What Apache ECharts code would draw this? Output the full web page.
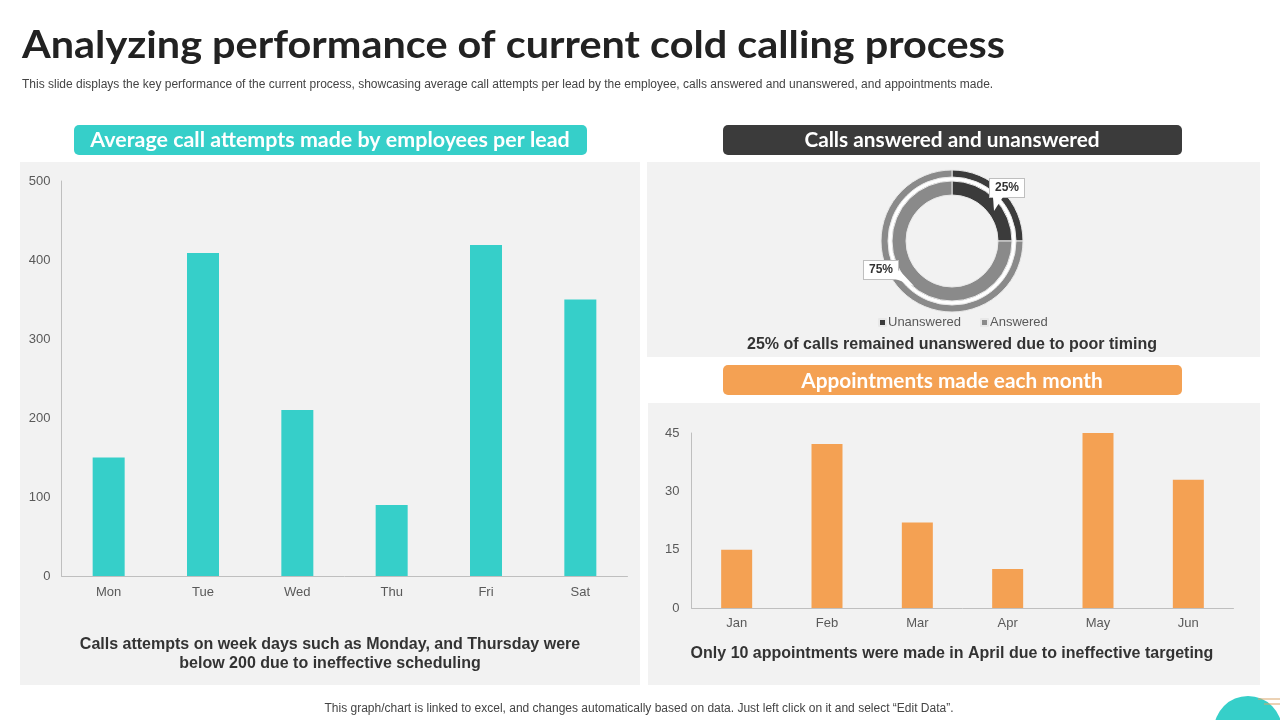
<!DOCTYPE html>
<html><head><meta charset="utf-8">
<style>html,body{margin:0;padding:0;background:#fff}#c{width:1280px;height:720px}</style>
<script src="https://cdn.jsdelivr.net/npm/echarts@6/dist/echarts.min.js"></script>
</head><body><div id="c"></div>
<script>
const dayLabels = ['Mon','Tue','Wed','Thu','Fri','Sat'];
const callAttempts = [150,409,210,90,419,350];
const monthLabels = ['Jan','Feb','Mar','Apr','May','Jun'];
const appointments = [15,42.2,22,10,45,33];
const callNames = ['Unanswered','Answered'];
const callShares = [25,75];
const TEAL='#36cfc9', ORANGE='#f4a153', DARK='#3b3b3b', GRAY='#8a8a8a', PANEL='#f2f2f2';
const AR='"Liberation Sans",Arial,sans-serif', HD='Lato,sans-serif';
const chart = echarts.init(document.getElementById('c'),null,{renderer:'canvas'});
function rect(x,y,w,h,fill,r){return {type:'rect',z:-10,shape:{x,y,width:w,height:h,r:r||0},style:{fill}};}
function txt(s,x,y,size,color,weight,align,font,sx){return {type:'text',z:20,x,y,scaleX:sx||1,style:{text:s,fontSize:size,fill:color,fontWeight:weight||'normal',fontFamily:font||AR,align:align||'left',verticalAlign:'middle'}};}
function axisBase(margin){return {axisTick:{show:false},axisLine:{show:true,lineStyle:{color:'#bfbfbf',width:1}},splitLine:{show:false},axisLabel:{color:'#595959',fontSize:13,fontFamily:AR,margin:margin}};}
function pieRing(inner,outer,withLabel){return {type:'pie',center:[952,241],radius:[inner,outer],startAngle:90,clockwise:true,silent:true,
  data:callNames.map((n,i)=>({name:n,value:callShares[i],itemStyle:{color:i?GRAY:DARK}})),
  itemStyle:{borderColor:'#e8e8e8',borderWidth:1},
  label:withLabel?{show:true,position:'outside',formatter:'{d}%',color:'#333',fontSize:12,fontWeight:'bold',fontFamily:AR,backgroundColor:'#fff',borderColor:'#bfbfbf',borderWidth:1,padding:[3,5]}:{show:false},
  labelLine:{show:false},
  labelLayout:withLabel?function(p){return p.dataIndex===0?{x:1007,y:188,align:'center',verticalAlign:'middle'}:{x:881,y:270,align:'center',verticalAlign:'middle'};}:undefined,
  emphasis:{disabled:true}};}
chart.setOption({
  animation:false,backgroundColor:'#fff',
  legend:{data:callNames,left:873,top:311,itemWidth:7,itemHeight:7,itemGap:19,icon:'rect',textStyle:{color:'#595959',fontSize:13,fontFamily:AR,padding:[0,0,0,-3]}},
  grid:[{left:61.5,top:181,width:566,height:395},{left:691.5,top:433,width:542,height:175}],
  xAxis:[
    Object.assign(axisBase(10),{type:'category',gridIndex:0,data:dayLabels}),
    Object.assign(axisBase(9),{type:'category',gridIndex:1,data:monthLabels})
  ],
  yAxis:[
    Object.assign(axisBase(11),{type:'value',gridIndex:0,min:0,max:500,interval:100}),
    Object.assign(axisBase(12),{type:'value',gridIndex:1,min:0,max:45,interval:15})
  ],
  series:[
    {type:'bar',xAxisIndex:0,yAxisIndex:0,data:callAttempts,barWidth:32,itemStyle:{color:TEAL},silent:true},
    {type:'bar',xAxisIndex:1,yAxisIndex:1,data:appointments,barWidth:31,itemStyle:{color:ORANGE},silent:true},
    pieRing(64,71,false),
    pieRing(46,60,true)
  ],
  graphic:[
    rect(20,162,620,523,PANEL),rect(647,162,613,195,PANEL),rect(648,403,612,282,PANEL),
    rect(74,125,513,30,TEAL,5),rect(723,125,459,30,DARK,5),rect(723,365,459,30,ORANGE,5),
    {type:'ring',z:-5,shape:{cx:952,cy:241,r:64,r0:60},style:{fill:'#fff'}},
    txt('Analyzing performance of current cold calling process',22,46,38,'#222','bold','left',HD,1.09),
    txt('This slide displays the key performance of the current process, showcasing average call attempts per lead by the employee, calls answered and unanswered, and appointments made.',22,85,12,'#444'),
    txt('Average call attempts made by employees per lead',330,140,21,'#fff','bold','center',HD,1.02),
    txt('Calls answered and unanswered',952,140,21,'#fff','bold','center',HD,0.99),
    txt('Appointments made each month',952,381,21,'#fff','bold','center',HD,0.99),
    txt('Calls attempts on week days such as Monday, and Thursday were',330,645,16,'#333','bold','center'),
    txt('below 200 due to ineffective scheduling',330,664,16,'#333','bold','center'),
    txt('25% of calls remained unanswered due to poor timing',952,345,16,'#333','bold','center'),
    txt('Only 10 appointments were made in April due to ineffective targeting',952,654,16,'#333','bold','center'),
    txt('This graph/chart is linked to excel, and changes automatically based on data. Just left click on it and select \u201cEdit Data\u201d.',639,709,12,'#444','normal','center'),
    {type:'circle',z:5,shape:{cx:1248,cy:730,r:34},style:{fill:TEAL}},
    {type:'line',z:6,shape:{x1:1258,y1:699,x2:1280,y2:699},style:{stroke:'#d9a56a',lineWidth:1}},
    {type:'line',z:6,shape:{x1:1264,y1:704,x2:1280,y2:704},style:{stroke:'#d9a56a',lineWidth:1}},
    {type:'polygon',z:15,shape:{points:[[993,197],[1003,197],[994,211]]},style:{fill:'#fff'}},
    {type:'polygon',z:15,shape:{points:[[893,278],[899,270],[914,286]]},style:{fill:'#fff'}}
  ]
});
</script></body></html>
